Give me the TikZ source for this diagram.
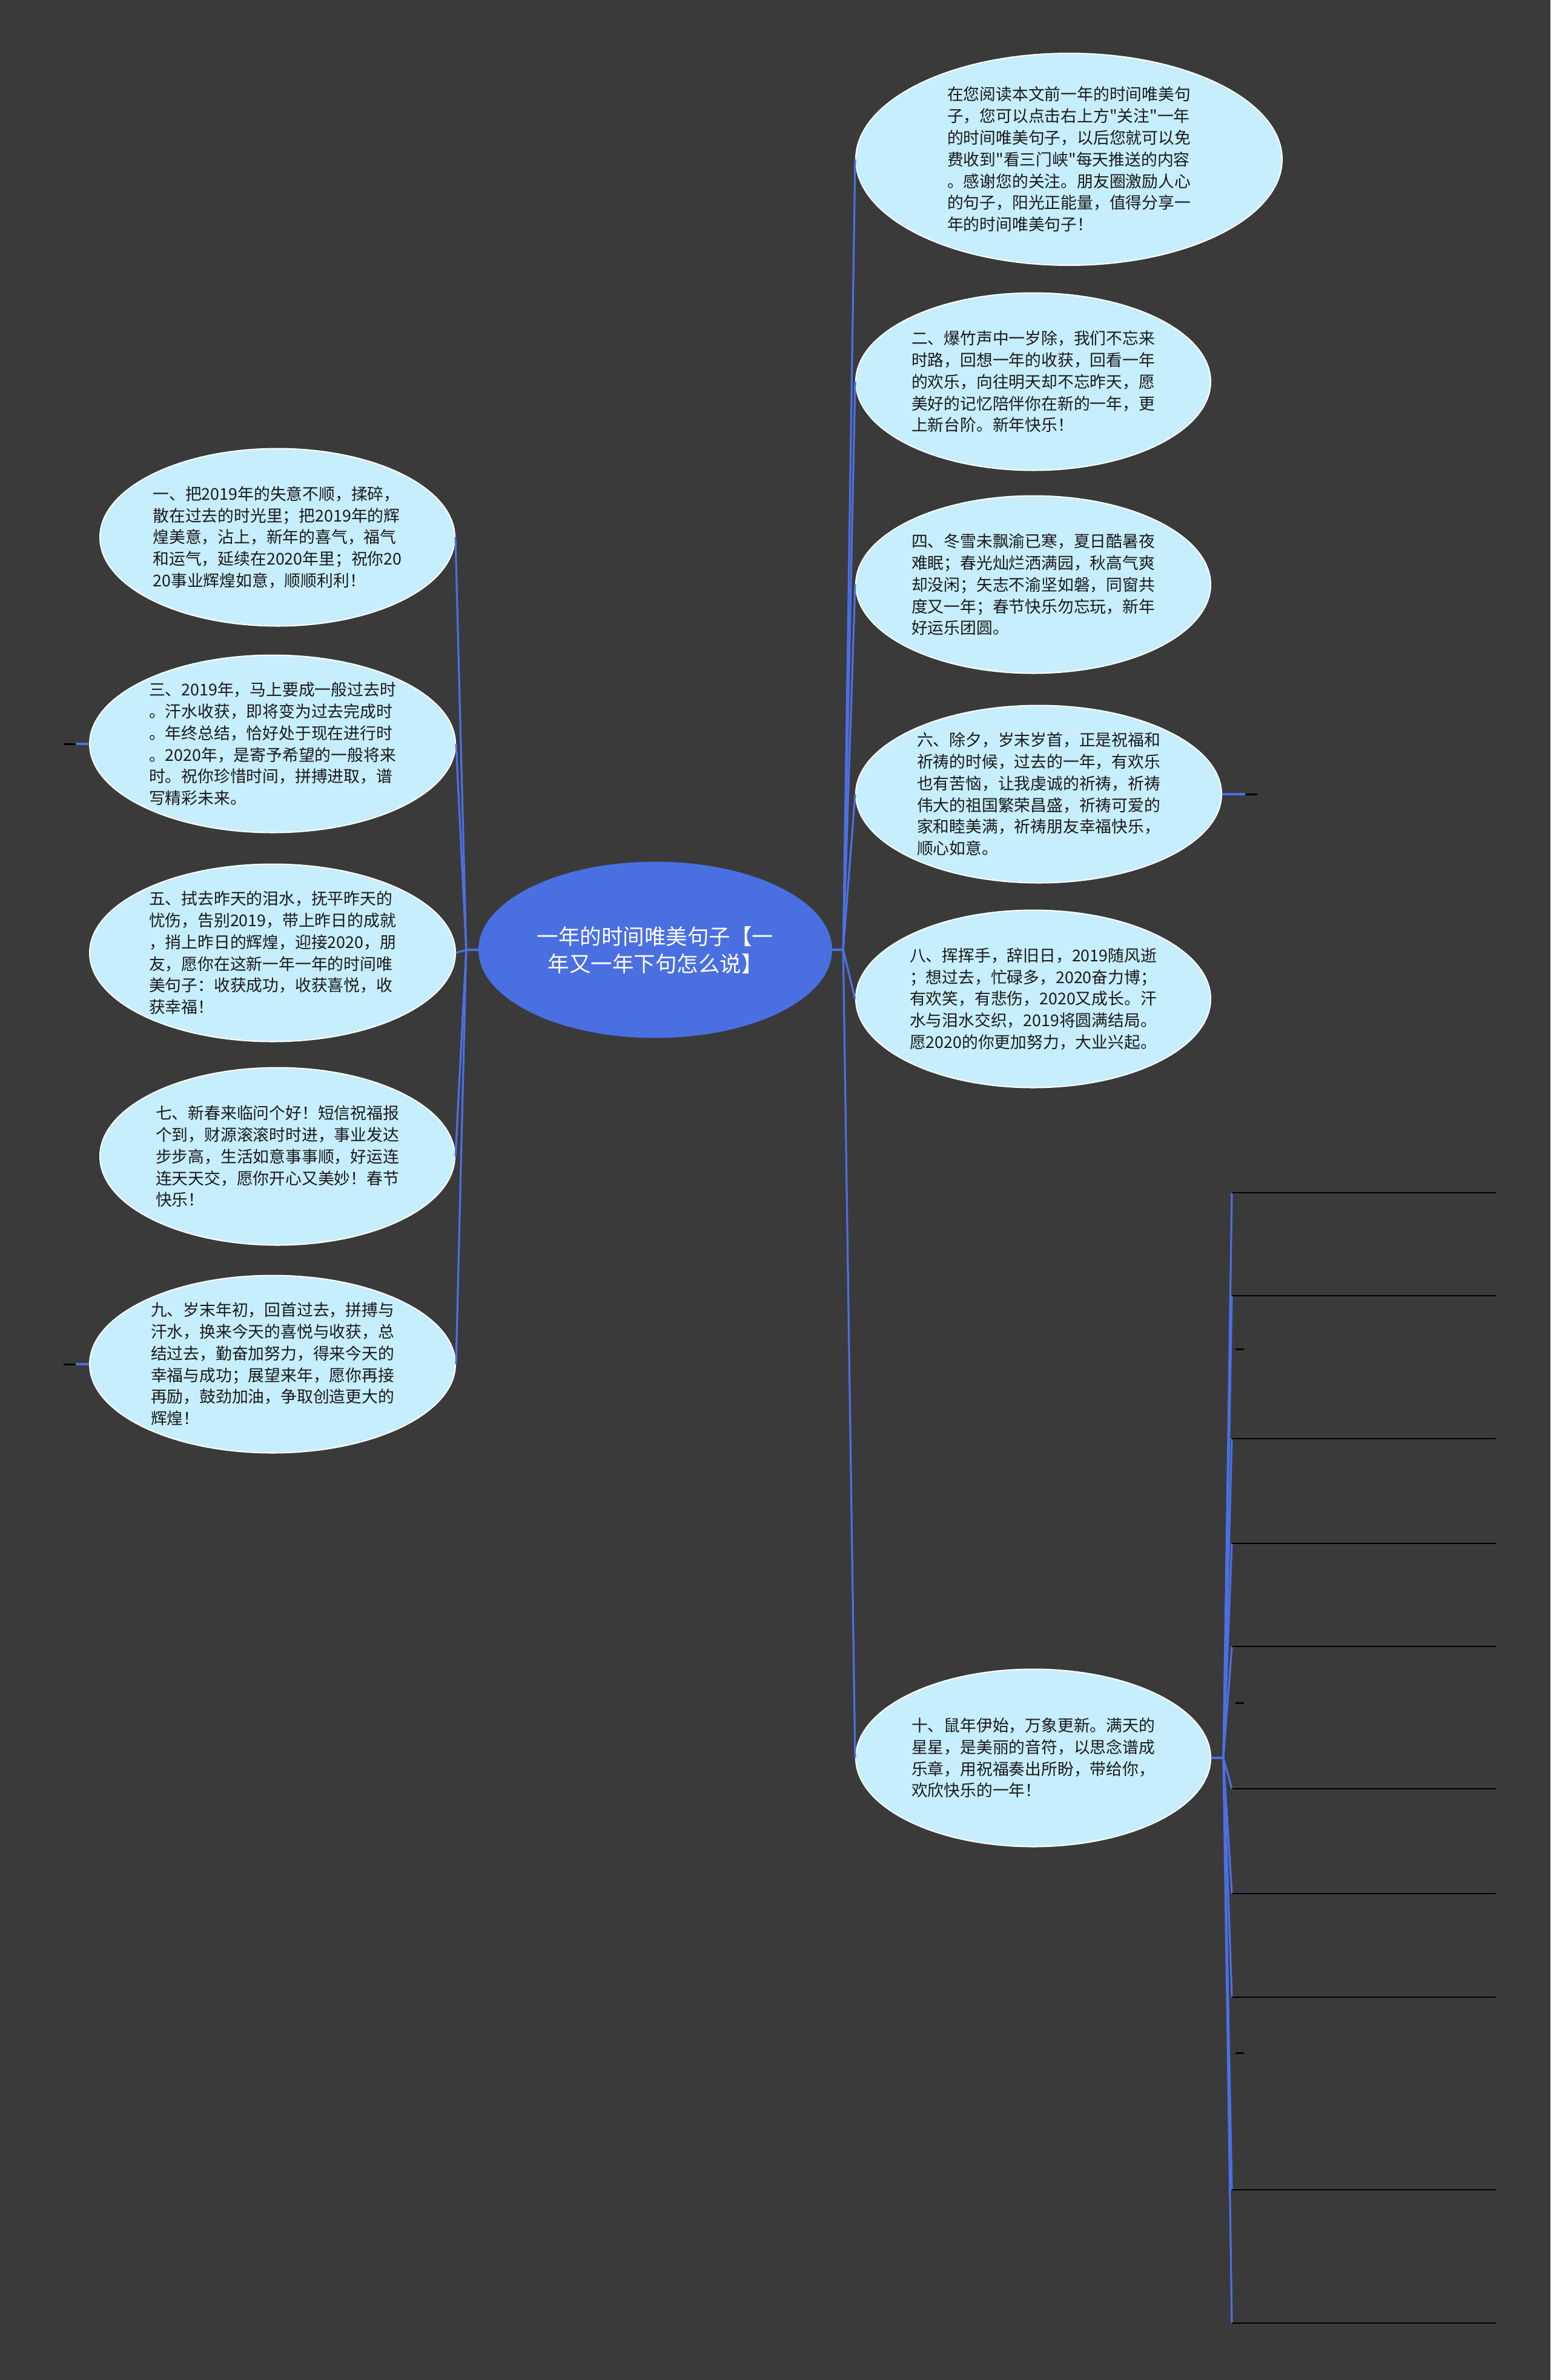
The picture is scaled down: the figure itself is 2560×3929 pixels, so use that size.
\documentclass[tikz,border=0pt]{standalone}
\usepackage{fontspec}
\newfontfamily\cjk{Noto Sans CJK SC}
\usetikzlibrary{shapes.geometric}
\definecolor{bg}{HTML}{3A3A3A}
\definecolor{bubfill}{HTML}{C7EEFC}
\definecolor{mainfill}{HTML}{4A6FE0}
\definecolor{linkblue}{HTML}{4C6FE4}
\definecolor{txtcol}{HTML}{1A1A1A}
\begin{document}
\begin{tikzpicture}[x=1pt,y=-1pt,
  bub/.style={ellipse, fill=bubfill, draw=white, line width=2pt, inner sep=0pt, minimum width=586pt, minimum height=293pt},
  mainbub/.style={ellipse, fill=mainfill, draw=none, inner sep=0pt, minimum width=584pt, minimum height=291pt},
  txt/.style={font=\cjk\fontsize{26.8}{35.8}\selectfont, align=left, text=txtcol, inner sep=0pt},
  ctxt/.style={font=\cjk\fontsize{35.5}{45}\selectfont, align=center, text=white, inner sep=0pt},
  conn/.style={draw=linkblue, line width=3.2pt},
  ul/.style={draw=black, line width=2.2pt},
  tick/.style={draw=black, line width=3pt}]
\fill[bg] (0,0) rectangle (2560,3929);
\useasboundingbox (0,0) rectangle (2560,3929);

% central node
\node[mainbub] (c) at (1082,1568) {};
\node[ctxt] (ct) at (c.center) {一年的时间唯美句子【一\\年又一年下句怎么说】};

% right nodes
\node[bub, minimum width=704pt, minimum height=350pt] (r0) at (1765,263) {};
\node[txt] (r0t) at (r0.center) {在您阅读本文前一年的时间唯美句\\子，您可以点击右上方"关注"一年\\的时间唯美句子，以后您就可以免\\费收到"看三门峡"每天推送的内容\\。感谢您的关注。朋友圈激励人心\\的句子，阳光正能量，值得分享一\\年的时间唯美句子！};

\node[bub] (r1) at (1706,630) {};
\node[txt] (r1t) at (r1.center) {二、爆竹声中一岁除，我们不忘来\\时路，回想一年的收获，回看一年\\的欢乐，向往明天却不忘昨天，愿\\美好的记忆陪伴你在新的一年，更\\上新台阶。新年快乐！};

\node[bub] (r2) at (1706,965) {};
\node[txt] (r2t) at (r2.center) {四、冬雪未飘渝已寒，夏日酷暑夜\\难眠；春光灿烂洒满园，秋高气爽\\却没闲；矢志不渝坚如磐，同窗共\\度又一年；春节快乐勿忘玩，新年\\好运乐团圆。};

\node[bub, minimum width=604pt] (r3) at (1715,1311) {};
\node[txt] (r3t) at (r3.center) {六、除夕，岁末岁首，正是祝福和\\祈祷的时候，过去的一年，有欢乐\\也有苦恼，让我虔诚的祈祷，祈祷\\伟大的祖国繁荣昌盛，祈祷可爱的\\家和睦美满，祈祷朋友幸福快乐，\\顺心如意。};

\node[bub] (r4) at (1706,1649) {};
\node[txt] (r4t) at (r4.center) {八、挥挥手，辞旧日，2019随风逝\\；想过去，忙碌多，2020奋力博；\\有欢笑，有悲伤，2020又成长。汗\\水与泪水交织，2019将圆满结局。\\愿2020的你更加努力，大业兴起。};

\node[bub] (r5) at (1706,2902) {};
\node[txt] (r5t) at (r5.center) {十、鼠年伊始，万象更新。满天的\\星星，是美丽的音符，以思念谱成\\乐章，用祝福奏出所盼，带给你，\\欢欣快乐的一年！};

% left nodes
\node[bub] (l1) at (458,887) {};
\node[txt] (l1t) at (l1.center) {一、把2019年的失意不顺，揉碎，\\散在过去的时光里；把2019年的辉\\煌美意，沾上，新年的喜气，福气\\和运气，延续在2020年里；祝你20\\20事业辉煌如意，顺顺利利！};

\node[bub, minimum width=604pt] (l2) at (450,1228) {};
\node[txt] (l2t) at (l2.center) {三、2019年，马上要成一般过去时\\。汗水收获，即将变为过去完成时\\。年终总结，恰好处于现在进行时\\。2020年，是寄予希望的一般将来\\时。祝你珍惜时间，拼搏进取，谱\\写精彩未来。};

\node[bub, minimum width=604pt] (l3) at (450,1573) {};
\node[txt] (l3t) at (l3.center) {五、拭去昨天的泪水，抚平昨天的\\忧伤，告别2019，带上昨日的成就\\，捎上昨日的辉煌，迎接2020，朋\\友，愿你在这新一年一年的时间唯\\美句子：收获成功，收获喜悦，收\\获幸福！};

\node[bub] (l4) at (458,1909) {};
\node[txt] (l4t) at (l4.center) {七、新春来临问个好！短信祝福报\\个到，财源滚滚时时进，事业发达\\步步高，生活如意事事顺，好运连\\连天天交，愿你开心又美妙！春节\\快乐！};

\node[bub, minimum width=604pt] (l5) at (450,2252) {};
\node[txt] (l5t) at (l5.center) {九、岁末年初，回首过去，拼搏与\\汗水，换来今天的喜悦与收获，总\\结过去，勤奋加努力，得来今天的\\幸福与成功；展望来年，愿你再接\\再励，鼓劲加油，争取创造更大的\\辉煌！};

% connectors from centre
\draw[conn] (c.west) -- ++(-20,0) coordinate (cl);
\draw[conn] (c.east) -- ++(18,0) coordinate (cr);
\foreach \n in {l1,l2,l3,l4,l5} { \draw[conn] (cl) -- (\n.east); }
\foreach \n in {r0,r1,r2,r3,r4,r5} { \draw[conn] (cr) -- (\n.west); }

% collapsed indicators
\draw[conn] (l2.west) -- ++(-22,0) coordinate (l2s);
\draw[tick] (l2s) -- ++(-20,0);
\draw[conn] (l5.west) -- ++(-22,0) coordinate (l5s);
\draw[tick] (l5s) -- ++(-20,0);
\draw[conn] (r3.east) -- ++(38,0) coordinate (r3s);
\draw[tick] (r3s) -- ++(20,0);

% children of r5
\draw[conn] (r5.east) -- ++(20,0) coordinate (r5s);
\foreach \i/\yy in {1/1969,2/2139,3/2375,4/2548,5/2718,6/2953,7/3126,8/3297,9/3615,10/3835} {
  \coordinate (k\i) at (2034,\yy);
  \draw[conn] (r5s) -- (k\i);
  \draw[ul] (k\i) -- ++(436,0);
}
\foreach \i/\yy in {1/2227,2/2811,3/3389} {
  \coordinate (s\i) at (2040,\yy);
  \draw[tick] (s\i) -- ++(14,0);
}
\end{tikzpicture}
\end{document}
